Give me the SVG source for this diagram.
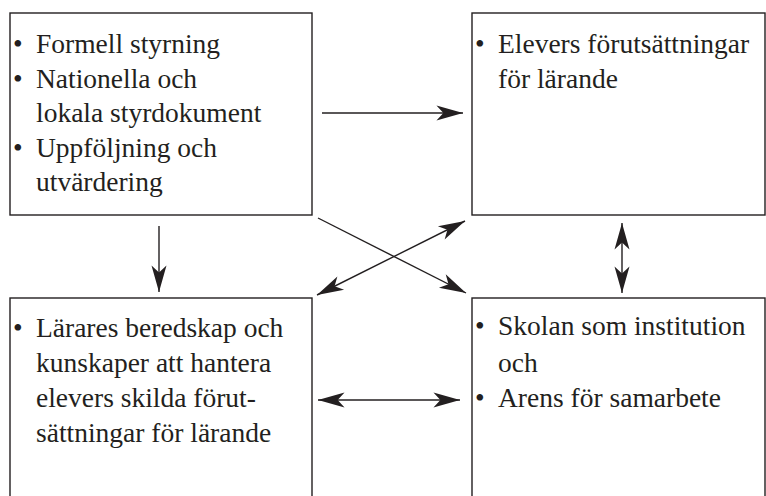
<svg xmlns="http://www.w3.org/2000/svg" width="766" height="496" viewBox="0 0 766 496">
<style>
.box{fill:#fff;stroke:#231f20;stroke-width:1.4}
.t{font-family:'Liberation Serif','Times New Roman',serif;font-size:27.5px;fill:#231f20}
.c{stroke:#231f20;stroke-width:1.4;fill:none}
</style>
<defs>
<marker id="ah" markerUnits="userSpaceOnUse" markerWidth="30" markerHeight="20" viewBox="-24 -8 26 16" refX="0" refY="0" orient="auto-start-reverse">
<path d="M0,0 L-23,-6.5 L-17,0 L-23,6.5 Z" fill="#231f20"/>
</marker>
</defs>
<rect width="766" height="496" fill="#fff"/>
<g id="node-styrning">
<rect class="box" x="10" y="13" width="302" height="202"/>
<text class="t" x="13" y="53">•</text><text class="t" x="36" y="53">Formell styrning</text>
<text class="t" x="13" y="88">•</text><text class="t" x="36" y="88">Nationella och</text>
<text class="t" x="36" y="122">lokala styrdokument</text>
<text class="t" x="13" y="157">•</text><text class="t" x="36" y="157">Uppföljning och</text>
<text class="t" x="36" y="191">utvärdering</text>
</g>
<g id="node-elever">
<rect class="box" x="472" y="13" width="293" height="202"/>
<text class="t" x="475" y="53">•</text><text class="t" x="498" y="53">Elevers förutsättningar</text>
<text class="t" x="498" y="88">för lärande</text>
</g>
<g id="node-larare">
<rect class="box" x="10" y="298" width="302" height="210"/>
<text class="t" x="13" y="337">•</text><text class="t" x="36" y="337">Lärares beredskap och</text>
<text class="t" x="36" y="372">kunskaper att hantera</text>
<text class="t" x="36" y="407">elevers skilda förut-</text>
<text class="t" x="36" y="442">sättningar för lärande</text>
</g>
<g id="node-skolan">
<rect class="box" x="472" y="298" width="293" height="210"/>
<text class="t" x="475" y="335">•</text><text class="t" x="498" y="335">Skolan som institution</text>
<text class="t" x="498" y="372">och</text>
<text class="t" x="475" y="407">•</text><text class="t" x="498" y="407">Arens för samarbete</text>
</g>
<g id="connectors">
<line class="c" x1="322" y1="113" x2="463" y2="113" marker-end="url(#ah)"/>
<line class="c" x1="159" y1="226" x2="159" y2="292" marker-end="url(#ah)"/>
<line class="c" x1="318" y1="218" x2="466" y2="293" marker-end="url(#ah)"/>
<line class="c" x1="317" y1="295" x2="465" y2="221" marker-start="url(#ah)" marker-end="url(#ah)"/>
<line class="c" x1="622" y1="223" x2="622" y2="293" marker-start="url(#ah)" marker-end="url(#ah)"/>
<line class="c" x1="318" y1="400" x2="460" y2="400" marker-start="url(#ah)" marker-end="url(#ah)"/>
</g>
</svg>
